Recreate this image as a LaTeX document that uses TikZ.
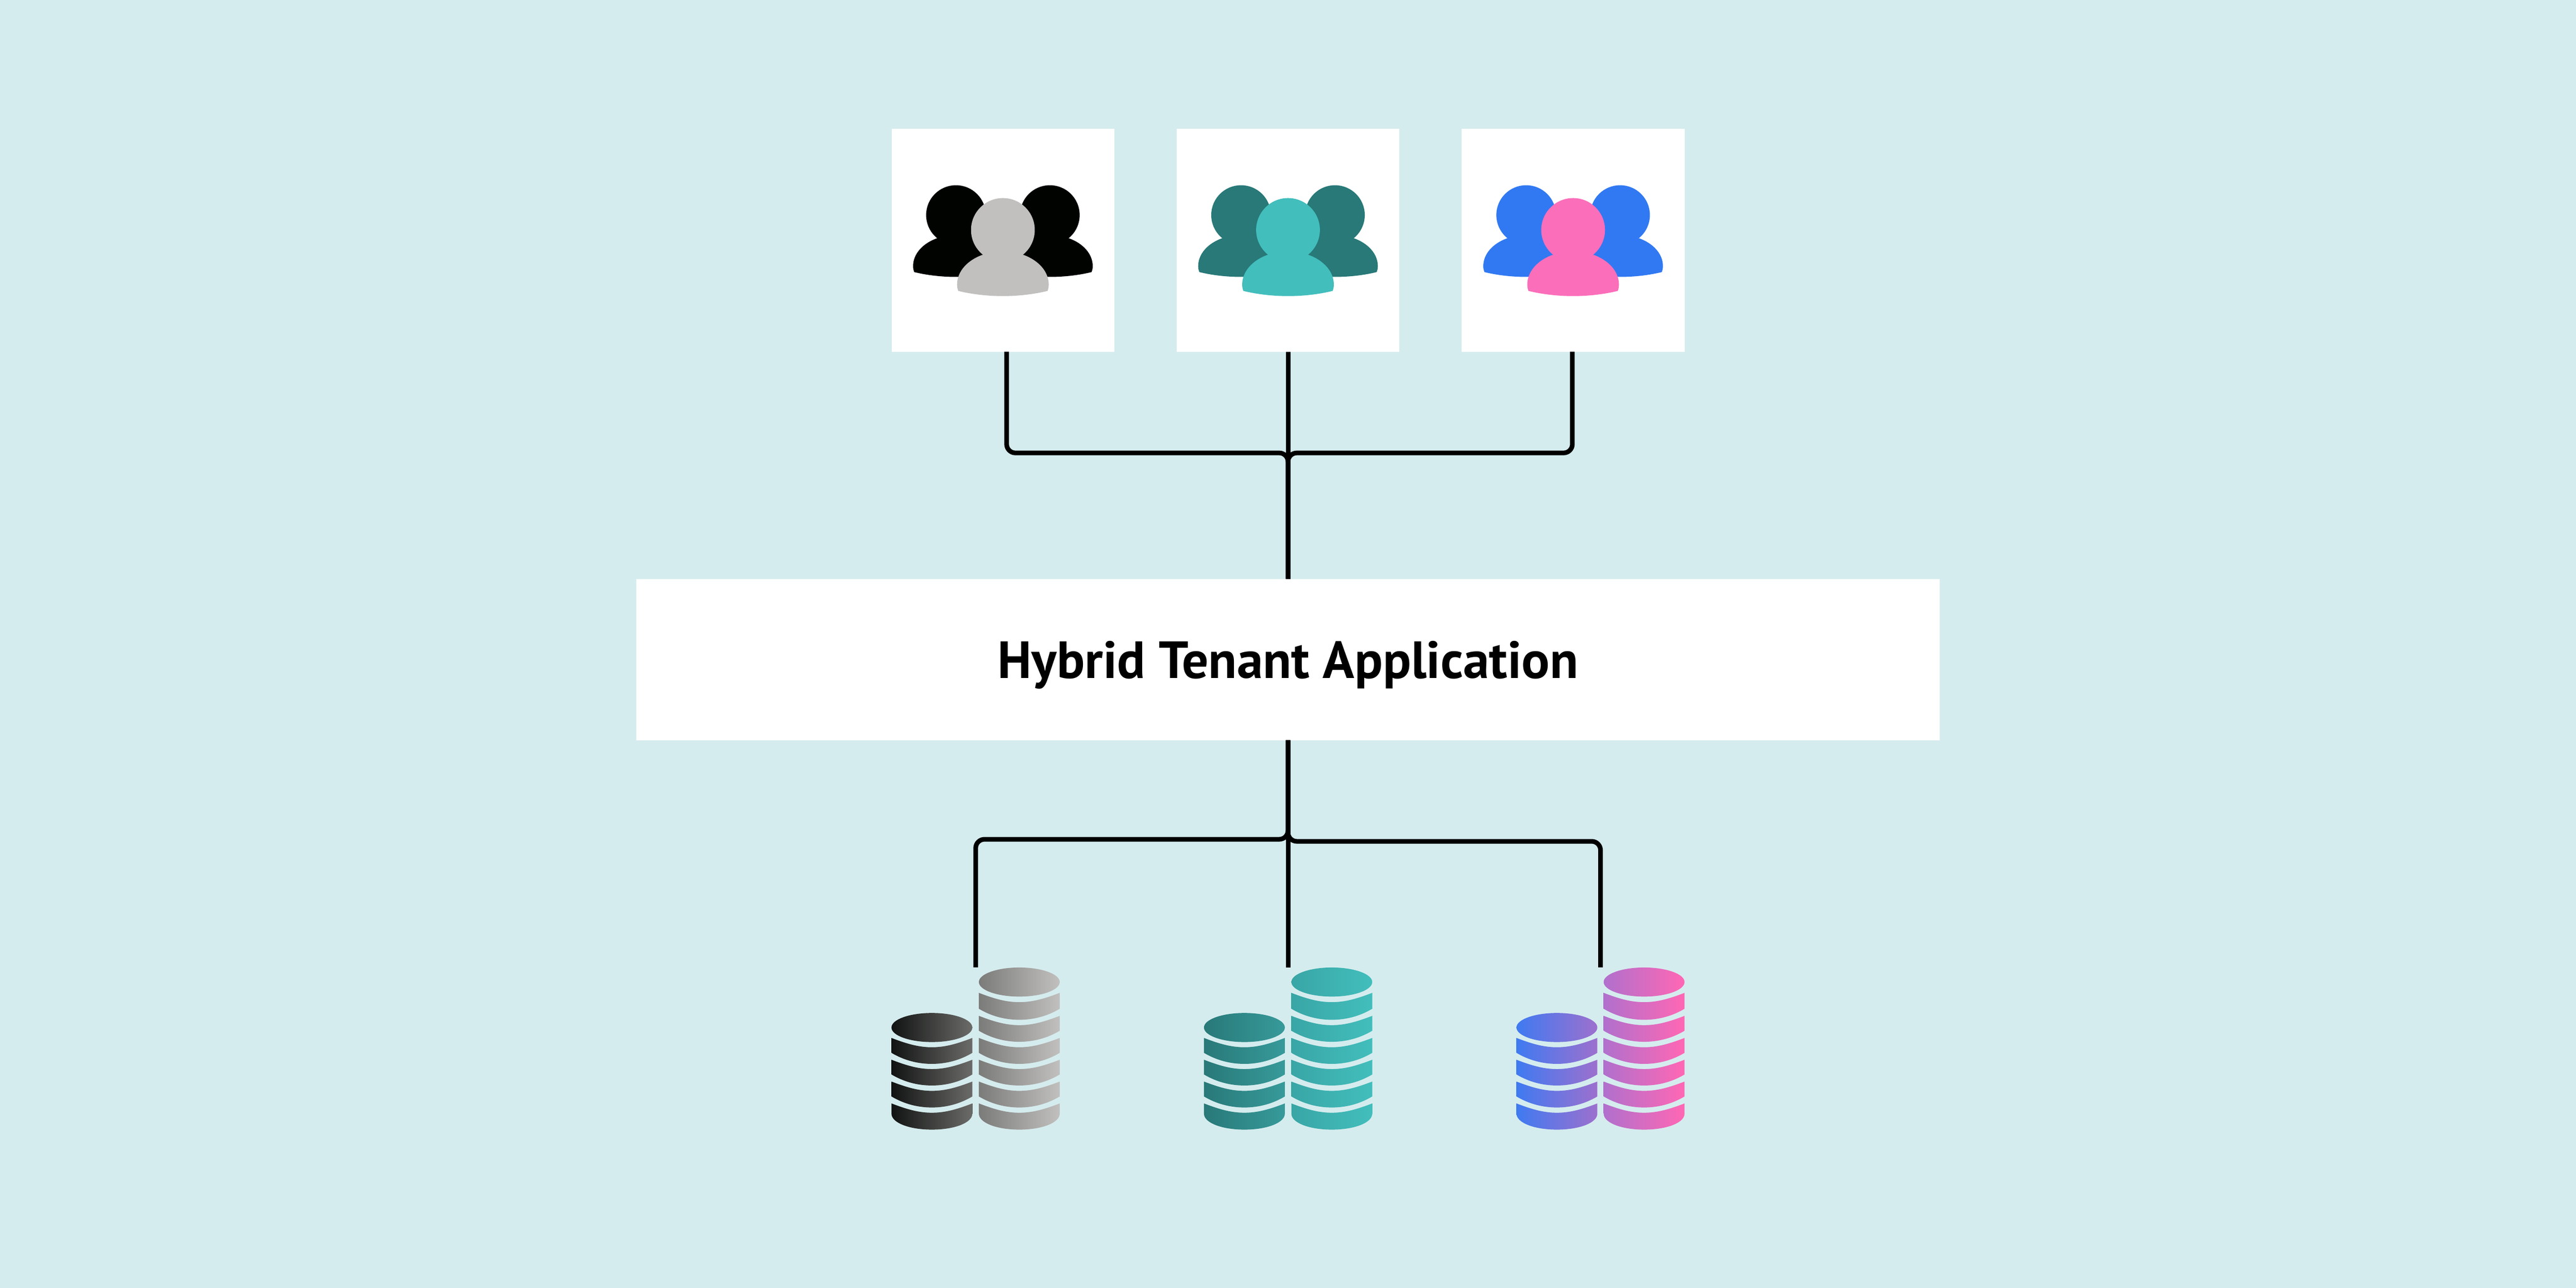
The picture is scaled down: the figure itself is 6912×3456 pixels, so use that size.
\documentclass[tikz,border=0pt]{standalone}
\usepackage{fontspec}
\setmainfont{PT Sans}
\usepackage{xcolor}
\usetikzlibrary{calc}

\definecolor{bgteal}{HTML}{D5ECEE}
\definecolor{peopleBlack}{HTML}{000300}
\definecolor{peopleGrey}{HTML}{C1C0BE}
\definecolor{peopleTeal}{HTML}{287978}
\definecolor{peopleAqua}{HTML}{42BEBC}
\definecolor{peopleBlue}{HTML}{3179F2}
\definecolor{peoplePink}{HTML}{FB6EBA}
\definecolor{dbInk}{HTML}{111312}
\definecolor{dbSlate}{HTML}{6B6B69}
\definecolor{dbAsh}{HTML}{7B7B7A}
\definecolor{dbTealMid}{HTML}{379A9A}
\definecolor{dbTealLight}{HTML}{39A6A6}
\definecolor{dbBlue}{HTML}{3F7AF1}
\definecolor{dbViolet}{HTML}{9D70CE}
\definecolor{dbOrchid}{HTML}{B070CD}
\definecolor{dbPink}{HTML}{FF67B4}

\tikzset{
    backdrop/.style={fill=bgteal},
    cardbox/.style={fill=white, inner sep=0pt, outer sep=0pt, minimum width=2.99cm, minimum height=2.99cm},
    appbox/.style={fill=white, inner sep=0pt, outer sep=0pt, minimum width=17.5cm, text height=1.335cm, text depth=0.83cm, font=\fontsize{20}{24}\selectfont\bfseries, align=center},
    wire/.style={draw=black, line width=0.0625cm, rounded corners=0.118cm},
    personicon/.pic={
        \fill[pic actions] (0,0) circle (80);
        \fill[pic actions] (-50,62) .. controls (-90,76) and (-115,105) .. (-115,137)
            .. controls (-115,143) and (-114,148) .. (-112,153)
            .. controls (-80,161) and (-40,166) .. (0,166)
            .. controls (40,166) and (80,161) .. (112,153)
            .. controls (114,148) and (115,143) .. (115,137)
            .. controls (115,105) and (90,76) .. (50,62) -- cycle;
    }
}

\newcommand{\dbstack}[5]{%
    \begin{scope}[shift={(#1,0)}]
        \shade[left color=#3, right color=#4] (0,#2) ellipse (108.5 and 39);
        \foreach \slabtop/\slabbot in {#5} {
            \shade[left color=#3, right color=#4] (-108.5,\slabtop)
                .. controls (-62,\slabtop+18) and (-32,\slabtop+25) .. (0,\slabtop+25)
                .. controls (32,\slabtop+25) and (62,\slabtop+18) .. (108.5,\slabtop)
                -- (108.5,\slabbot)
                .. controls (75,\slabbot+20) and (38,\slabbot+29.6) .. (0,\slabbot+29.6)
                .. controls (-38,\slabbot+29.6) and (-75,\slabbot+20) .. (-108.5,\slabbot) -- cycle;
        }
        \shade[left color=#3, right color=#4] (-108.5,2960.7)
            .. controls (-62,2978.7) and (-32,2985.7) .. (0,2985.7)
            .. controls (32,2985.7) and (62,2978.7) .. (108.5,2960.7)
            -- (108.5,2988) .. controls (108.5,3013) and (60,3031) .. (0,3031)
            .. controls (-60,3031) and (-108.5,3013) .. (-108.5,2988) -- cycle;
    \end{scope}
}

\begin{document}
\begin{tikzpicture}[x=0.005cm, y=-0.005cm]
    \fill[backdrop] (0,0) rectangle (6912,3456);

    \foreach \cardname/\axis/\backcol/\frontcol in {cardA/2691/peopleBlack/peopleGrey, cardB/3456/peopleTeal/peopleAqua, cardC/4221/peopleBlue/peoplePink} {
        \node[cardbox] (\cardname) at (\axis,645) {};
        \pic[fill=\backcol] at (\axis-126,577) {personicon};
        \pic[fill=\backcol] at (\axis+126,577) {personicon};
        \pic[fill=\frontcol, scale=1.069] at (\axis,617) {personicon};
    }

    \node[appbox] (appBox) at (3456,1769.5) {Hybrid Tenant Application};

    \coordinate (busTop) at (3456,1215.3);
    \coordinate (busLeft) at (3456,2252);
    \coordinate (busRight) at (3456,2257.5);
    \coordinate (dbTopA) at (2618,2595.7);
    \coordinate (dbTopB) at (3456,2595.7);
    \coordinate (dbTopC) at (4294.5,2595.7);

    \draw[wire] ([xshift=0.05cm]cardA.south) |- (busTop) -- (appBox.north);
    \draw[wire] ([xshift=-0.01cm]cardC.south) |- (busTop) -- (appBox.north);
    \draw[wire] (cardB.south) -- (appBox.north);

    \draw[wire] (appBox.south) -- (busLeft) -| (dbTopA);
    \draw[wire] (appBox.south) -- (busRight) -| (dbTopC);
    \draw[wire] (appBox.south) -- (dbTopB);

    \dbstack{2500.5}{2757}{dbInk}{dbSlate}{2785/2825, 2843.5/2883, 2902/2942}
    \dbstack{2735}{2635}{dbAsh}{peopleGrey}{2664/2706.7, 2725.7/2765.7, 2785/2825, 2843.5/2883, 2902/2942}
    \dbstack{3339}{2757}{peopleTeal}{dbTealMid}{2785/2825, 2843.5/2883, 2902/2942}
    \dbstack{3573.5}{2635}{dbTealLight}{peopleAqua}{2664/2706.7, 2725.7/2765.7, 2785/2825, 2843.5/2883, 2902/2942}
    \dbstack{4177.5}{2757}{dbBlue}{dbViolet}{2785/2825, 2843.5/2883, 2902/2942}
    \dbstack{4411.5}{2635}{dbOrchid}{dbPink}{2664/2706.7, 2725.7/2765.7, 2785/2825, 2843.5/2883, 2902/2942}
\end{tikzpicture}
\end{document}
